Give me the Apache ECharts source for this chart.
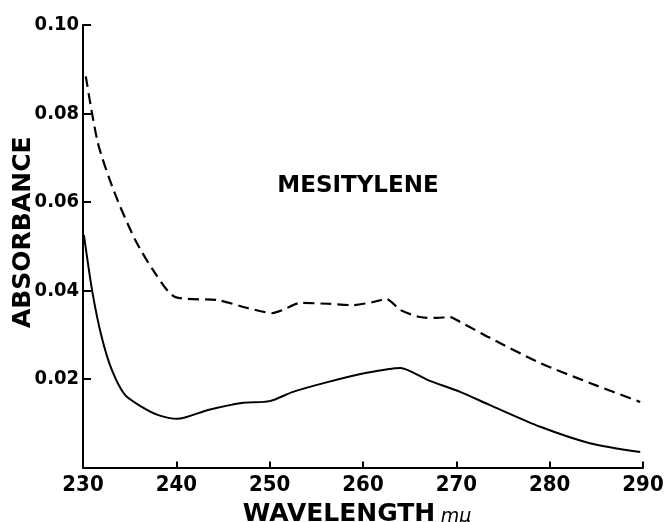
<!DOCTYPE html>
<html>
<head>
<meta charset="utf-8">
<title>Mesitylene absorbance</title>
<script src="https://cdn.jsdelivr.net/npm/echarts@6/dist/echarts.min.js"></script>
<style>
  html, body { margin: 0; padding: 0; background: #fff; }
  #chart { width: 664px; height: 522px; }
</style>
</head>
<body>
<div id="chart"></div>
<script>
// Wavelength (mμ) and absorbance readings, lower (solid) trace
const solidWavelength = [230.1, 231.0, 232.0, 233.1, 234.5, 236.3, 238.0, 240.1, 243.4, 247.0, 250.0, 252.5, 256.2, 260.4, 264.0, 266.9, 270.4, 273.6, 279.0, 284.3, 289.7];
const solidAbsorbance = [0.0525, 0.0397, 0.0295, 0.0220, 0.0164, 0.0137, 0.0119, 0.0110, 0.0130, 0.0146, 0.0150, 0.0171, 0.0193, 0.0214, 0.0225, 0.0198, 0.0171, 0.0141, 0.0092, 0.0055, 0.0035];

// Upper (dashed) trace
const dashedWavelength = [230.3, 231.6, 233.4, 235.6, 237.7, 239.9, 244.5, 247.7, 250.3, 251.4, 253.3, 256.2, 258.9, 261.1, 262.5, 264.0, 266.1, 267.9, 269.3, 270.4, 273.6, 279.0, 284.3, 289.7];
const dashedAbsorbance = [0.0884, 0.0733, 0.0620, 0.0514, 0.0440, 0.0385, 0.0378, 0.0360, 0.0349, 0.0356, 0.0372, 0.0370, 0.0367, 0.0374, 0.0381, 0.0356, 0.0340, 0.0338, 0.0340, 0.0329, 0.0293, 0.0236, 0.0191, 0.0148];

// Axis ticks
const xTicks = [230, 240, 250, 260, 270, 280, 290];
const yTicks = [0.00, 0.02, 0.04, 0.06, 0.08, 0.10];

const chartTitle = 'MESITYLENE';
const xTitle = 'WAVELENGTH';
const xUnit = 'mμ';
const yTitle = 'ABSORBANCE';

const pair = (xs, ys) => xs.map((x, i) => [x, ys[i]]);

const labelFont = '"DejaVu Sans Condensed", "Liberation Sans Narrow", "Liberation Sans", sans-serif';
const titleFont = '"DejaVu Sans", "Liberation Sans", sans-serif';

const chart = echarts.init(document.getElementById('chart'), null, { renderer: 'canvas' });

chart.setOption({
  backgroundColor: '#ffffff',
  animation: false,
  grid: { left: 83, right: 21, top: 25, bottom: 54.5, containLabel: false, outerBoundsMode: 'none' },
  title: {
    text: chartTitle,
    left: 353, top: 170, textAlign: 'center',
    textStyle: { fontFamily: titleFont, fontWeight: 'bold', fontSize: 23, color: '#000' }
  },
  // Wavelength axis caption with the italic unit, placed under the tick labels
  graphic: [{
    type: 'text',
    x: 357, y: 514,
    style: {
      text: '{t|' + xTitle + '} {u|' + xUnit + '}',
      align: 'center',
      verticalAlign: 'middle',
      rich: {
        t: { fontFamily: titleFont, fontWeight: 'bold', fontSize: 25, fill: '#000' },
        u: { fontFamily: titleFont, fontStyle: 'italic', fontSize: 19, fill: '#000', padding: [6, 0, 0, 2] }
      }
    }
  }],
  xAxis: {
    type: 'value',
    min: xTicks[0], max: xTicks[xTicks.length - 1], interval: 10,
    splitLine: { show: false },
    axisLine: { lineStyle: { color: '#000', width: 2 } },
    axisTick: { inside: true, length: 6, lineStyle: { color: '#000', width: 2 } },
    axisLabel: {
      margin: 7, color: '#000', fontSize: 22, fontWeight: 'bold', fontFamily: labelFont,
      formatter: v => xTicks.includes(v) ? String(v) : ''
    }
  },
  yAxis: {
    type: 'value',
    min: yTicks[0], max: yTicks[yTicks.length - 1], interval: 0.02,
    splitLine: { show: false },
    axisLine: { lineStyle: { color: '#000', width: 2 } },
    axisTick: { inside: true, length: 8, lineStyle: { color: '#000', width: 2 } },
    axisLabel: {
      margin: 4, color: '#000', fontSize: 20, fontWeight: 'bold', fontFamily: labelFont,
      formatter: v => v === 0 ? '' : v.toFixed(2)
    },
    name: yTitle,
    nameLocation: 'middle',
    nameGap: 47,
    nameMoveOverlap: false,
    nameRotate: 90,
    nameTextStyle: { fontFamily: titleFont, fontWeight: 'bold', fontSize: 25, color: '#000', padding: [0, 0, 0, 28] }
  },
  series: [
    {
      type: 'line',
      data: pair(dashedWavelength, dashedAbsorbance),
      smooth: 0.25,
      symbol: 'none',
      lineStyle: { color: '#000', width: 2.2, type: [11, 6] }
    },
    {
      type: 'line',
      data: pair(solidWavelength, solidAbsorbance),
      smooth: 0.25,
      symbol: 'none',
      lineStyle: { color: '#000', width: 2 }
    }
  ]
});
</script>
</body>
</html>
